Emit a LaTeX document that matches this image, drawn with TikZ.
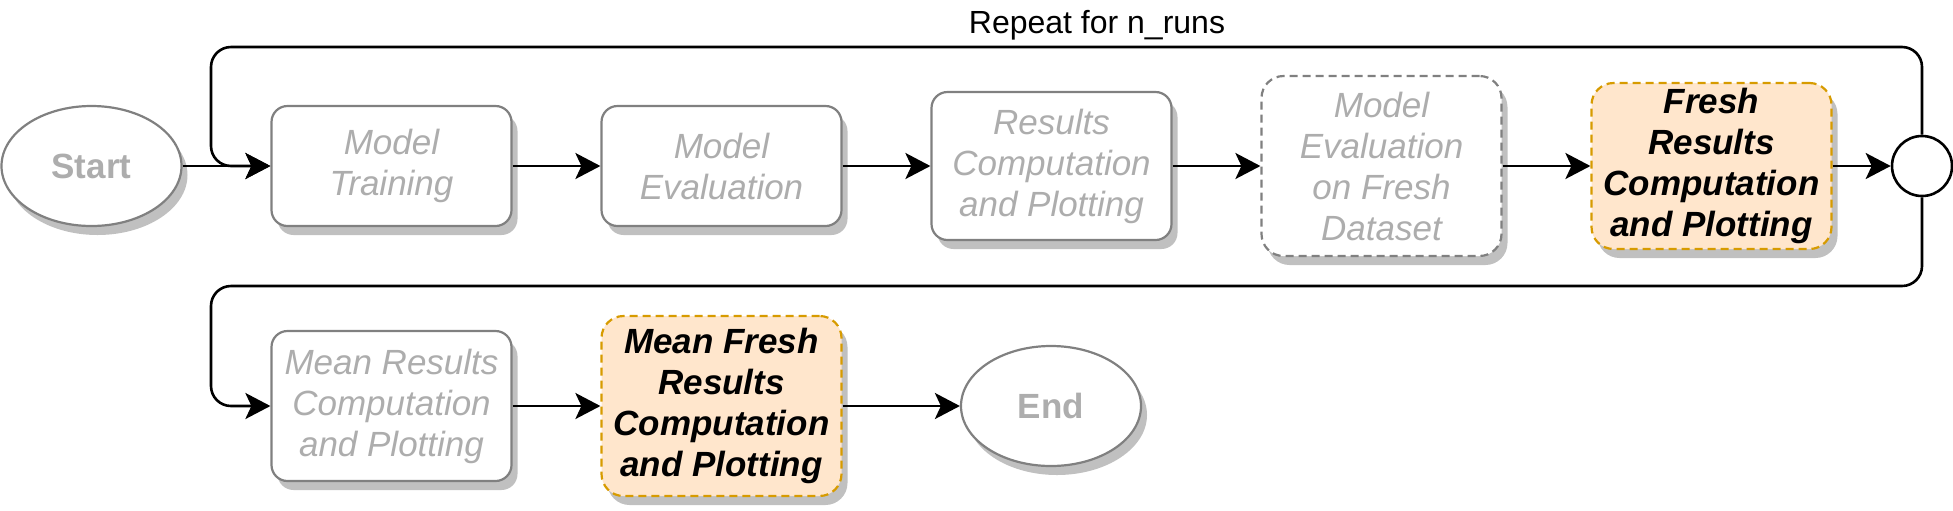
\documentclass[tikz,border=0pt]{standalone}
\usepackage{fontspec}
\setmainfont{Liberation Sans}
\usepackage{tikz}
\usetikzlibrary{shapes.geometric,arrows.meta,shadows}

\definecolor{boxline}{HTML}{808080}
\definecolor{boxtext}{HTML}{ADADAD}
\definecolor{shadowgray}{HTML}{C0C0C0}
\definecolor{freshfill}{HTML}{FFE6CC}
\definecolor{freshline}{HTML}{D79B00}

\tikzset{
	boxshadow/.style={drop shadow={shadow xshift=3pt,shadow yshift=-4.5pt,fill=shadowgray,opacity=1}},
	graybox/.style={draw=boxline,line width=1.1pt,fill=white,rounded corners=8pt,boxshadow,
		minimum width=120pt,inner sep=0pt,align=center,text=boxtext,
		font=\fontsize{17.5}{20.5}\selectfont\itshape},
	freshbox/.style={graybox,draw=freshline,fill=freshfill,dashed,dash pattern=on 4pt off 2.5pt,
		text=black,font=\fontsize{17.5}{20.5}\selectfont\bfseries\itshape},
	terminal/.style={ellipse,draw=boxline,line width=1.1pt,fill=white,boxshadow,
		minimum width=90pt,minimum height=60pt,inner sep=0pt,text=boxtext,
		font=\fontsize{17.5}{20.5}\selectfont\bfseries},
	flowarrow/.style={draw=black,line width=1.3pt,-{Stealth[length=12.5pt,width=13pt,inset=3pt]}}
}

\begin{document}
\begin{tikzpicture}[x=0.5pt,y=-0.5pt]
		\useasboundingbox (0,0) rectangle (1953,510);
		%\draw (0,0) grid[step=100] (1953,510);
		% first row
		\node[terminal] (start) at (91.5,166) {Start};
		\node[graybox,minimum height=60pt] (train) at (391.5,166) {Model\\Training};
		\node[graybox,minimum height=60pt] (eval) at (721.5,166) {Model\\Evaluation};
		\node[graybox,minimum height=74pt] (res) at (1051.5,166) {Results\\Computation\\and Plotting};
		\node[graybox,minimum height=90pt,dashed,dash pattern=on 4pt off 2.5pt,rounded corners=11pt] (evalfresh) at (1381.5,166) {Model\\Evaluation\\on Fresh\\Dataset};
		\node[freshbox,minimum height=83pt,rounded corners=11pt] (fresh) at (1711.5,166) {Fresh\\Results\\Computation\\and Plotting};
		\node[circle,draw=black,line width=1.3pt,fill=white,minimum size=30pt,inner sep=0pt] (join) at (1922,166) {};
		% second row
		\node[graybox,minimum height=75pt] (meanres) at (391.5,406) {Mean Results\\Computation\\and Plotting};
		\node[freshbox,minimum height=90pt,rounded corners=11pt] (meanfresh) at (721.5,406) {Mean Fresh\\Results\\Computation\\and Plotting};
		\node[terminal] (finish) at (1051,406) {End};
		% loop
		\coordinate (loopA) at (211,47);
		\coordinate (loopB) at (211,286);
		\node[font=\fontsize{16}{19}\selectfont] (repeat) at (1097,25) {Repeat for n\_runs};
		\draw[flowarrow] (start) -- (train);
		\draw[flowarrow] (train) -- (eval);
		\draw[flowarrow] (eval) -- (res);
		\draw[flowarrow] (res) -- (evalfresh);
		\draw[flowarrow] (evalfresh) -- (fresh);
		\draw[flowarrow] (fresh) -- (join);
		\draw[flowarrow,rounded corners=10pt] (join.north) |- (loopA) |- (train.west);
		\draw[flowarrow,rounded corners=10pt] (join.south) |- (loopB) |- (meanres.west);
		\draw[flowarrow] (meanres) -- (meanfresh);
		\draw[flowarrow] (meanfresh) -- (finish);
	\end{tikzpicture}
\end{document}
